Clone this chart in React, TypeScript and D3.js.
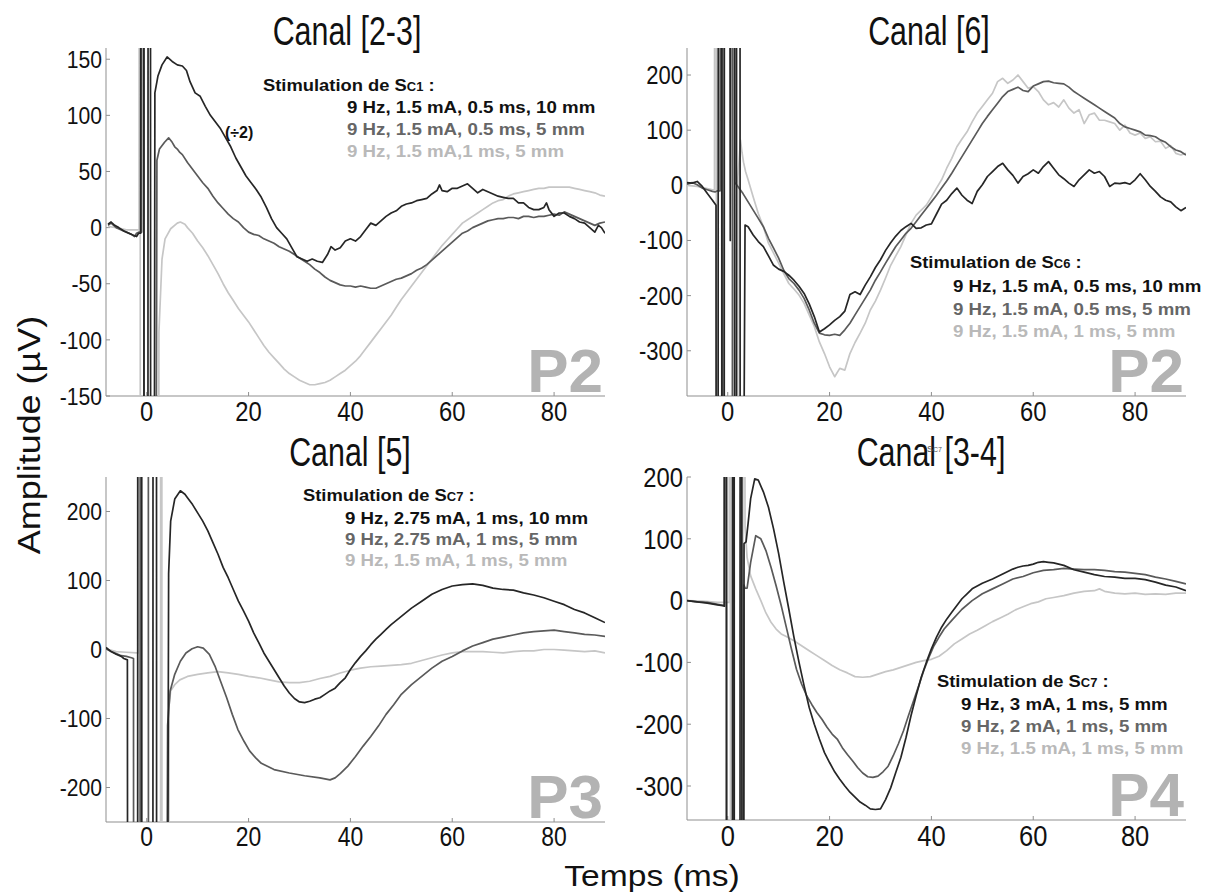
import React from "react";
import * as d3 from "d3";

type Pt = [number, number];

// ---------- tick labels & texts ----------
const xTicks = [0, 20, 40, 60, 80];
const yTicksA = [-150, -100, -50, 0, 50, 100, 150];
const yTicksB = [-300, -200, -100, 0, 100, 200];
const yTicksC = [-200, -100, 0, 100, 200];
const yTicksD = [-300, -200, -100, 0, 100, 200];

const titles = ["Canal [2-3]", "Canal [6]", "Canal [5]", "Canal [3-4]"];
const stimSites = ["C1", "C6", "C7", "C7"];
const panelTags = ["P2", "P2", "P3", "P4"];
const legendA = ["9 Hz, 1.5 mA, 0.5 ms, 10 mm", "9 Hz, 1.5 mA, 0.5 ms, 5 mm", "9 Hz, 1.5 mA,1 ms, 5 mm"];
const legendB = ["9 Hz, 1.5 mA, 0.5 ms, 10 mm", "9 Hz, 1.5 mA, 0.5 ms, 5 mm", "9 Hz, 1.5 mA, 1 ms, 5 mm"];
const legendC = ["9 Hz, 2.75 mA, 1 ms, 10 mm", "9 Hz, 2.75 mA, 1 ms, 5 mm", "9 Hz, 1.5 mA, 1 ms, 5 mm"];
const legendD = ["9 Hz, 3 mA, 1 ms, 5 mm", "9 Hz, 2 mA, 1 ms, 5 mm", "9 Hz, 1.5 mA, 1 ms, 5 mm"];

// ---------- series: [time (ms), amplitude (µV)]; ±999 = stimulus artefact off-scale ----------
const p1Dark: Pt[] = [[-7.6,3],[-7,5],[-6.3,2],[-5.5,0],[-4.5,-3],[-3.5,-5],[-2.5,-7],[-2,-8],[-1.6,-5],[-1.2,-5],[-1.1,999],[-0.6,999],[-0.5,-999],[0.2,-999],[0.3,999],[0.7,999],[0.8,-999],[1.3,-999],[1.6,120],[2.2,135],[3,145],[4,152],[5,148],[6,145],[7,144],[7.8,140],[8.5,130],[9.5,120],[10.5,117],[11.5,108],[12.5,100],[13.5,94],[14.5,88],[15.5,80],[16.5,72],[17.5,62],[18.5,54],[19.5,46],[20.5,40],[21.5,34],[22.5,27],[23.5,18],[24.5,8],[25.5,0],[26.5,-5],[27.5,-10],[28.5,-18],[29.5,-26],[30.5,-28],[31.5,-30],[32.5,-28],[33.5,-30],[34.5,-31],[35.5,-24],[36.2,-17],[37,-20],[38,-18],[39,-12],[40,-10],[41,-12],[42,-8],[43,-2],[44,4],[45,2],[46,6],[47,10],[48,13],[49,15],[50,19],[51,21],[52,22],[53,24],[54,25],[55,26],[56,30],[57,33],[57.5,38],[58,33],[59,32],[60,35],[61,35],[62,37],[63,39],[64,35],[65,31],[66,34],[67,32],[68,30],[69,28],[70,27],[71,26],[72,26],[73,22],[74,22],[75,18],[76,16],[77,16],[78,18],[78.5,22],[79,16],[80,10],[81,13],[82,13],[83,10],[84,8],[85,5],[86,4],[87,0],[88,-4],[88.7,2],[89.3,0],[90,-5]];
const p1Mid: Pt[] = [[-7.6,2],[-7,4],[-6,0],[-5,-2],[-4,-4],[-3,-6],[-2.4,-8],[-2,-5],[-1.5,-4],[-1,-4],[-0.9,999],[-0.6,999],[-0.5,-999],[1.1,-999],[1.5,-999],[2,60],[2.5,70],[3.5,76],[4.3,80],[5,76],[5.5,72],[6,70],[6.5,67],[7,65],[8,58],[9,52],[10,46],[11,40],[12,35],[13,28],[14,22],[15,17],[16,12],[17,8],[18,5],[19,0],[20,-4],[21,-6],[22,-7],[23,-10],[24,-12],[25,-14],[26,-17],[27,-19],[28,-21],[29,-24],[30,-27],[31,-30],[32,-33],[33,-37],[34,-40],[35,-44],[36,-47],[37,-49],[38,-51],[39,-52],[40,-52],[41,-53],[42,-52],[43,-53],[44,-54],[45,-54],[46,-52],[47,-50],[48,-48],[49,-46],[50,-45],[51,-43],[52,-41],[53,-38],[54,-36],[55,-33],[56,-29],[57,-25],[58,-21],[59,-17],[60,-13],[61,-9],[62,-5],[63,-3],[64,0],[65,2],[66,4],[67,6],[68,7],[69,8],[70,8],[71,9],[72,9],[73,8],[74,10],[75,10],[76,9],[77,10],[78,10],[79,11],[80,12],[81,11],[82,14],[83,12],[84,10],[85,8],[86,6],[87,4],[88,2],[89,4],[90,5]];
const p1Light: Pt[] = [[-7.6,1],[-6,0],[-4,-2],[-2,-2],[-1.5,-2],[-1.45,999],[-1.3,999],[-1.25,-999],[2.05,-999],[2.4,-93],[3,-28],[3.6,-10],[4.7,-1],[6,4],[6.6,5],[7.5,3],[8,0],[9,-5],[10,-12],[11,-18],[12,-25],[13,-33],[14,-41],[15,-50],[16,-58],[17,-65],[18,-72],[19,-78],[20,-84],[21,-91],[22,-98],[23,-105],[24,-111],[25,-116],[26,-121],[27,-126],[28,-130],[29,-133],[30,-136],[31,-138],[32,-140],[33,-140],[34,-139],[35,-138],[36,-136],[37,-133],[38,-130],[39,-127],[40,-123],[41,-119],[42,-114],[43,-108],[44,-102],[45,-96],[46,-90],[47,-84],[48,-78],[49,-71],[50,-64],[51,-58],[52,-52],[53,-46],[54,-40],[55,-34],[56,-28],[57,-22],[58,-16],[59,-11],[60,-6],[61,-1],[62,4],[63,7],[64,10],[65,13],[66,16],[67,19],[68,22],[69,24],[70,25],[71,28],[72,30],[73,31],[74,32],[75,33],[76,34],[77,35],[78,35],[79,36],[80,36],[81,36],[82,36],[83,36],[84,35],[85,34],[86,33],[87,32],[88,31],[89,29],[90,28]];

const p2Dark: Pt[] = [[-8,5],[-7,4],[-6,7],[-5,-2],[-4,-15],[-3,-27],[-2.3,-36],[-2.25,-999],[-1.9,-999],[-1.85,999],[-1.2,999],[-1.15,-999],[-0.7,-999],[-0.65,999],[0.35,999],[0.5,-100],[0.65,999],[1.3,999],[1.35,-999],[1.7,-999],[1.75,999],[2.4,999],[2.45,-999],[2.9,-999],[3.4,-72],[4,-75],[5,-90],[6,-102],[7,-111],[8,-128],[9,-145],[10,-152],[11,-156],[12,-163],[13,-172],[14,-183],[15,-196],[16,-215],[17,-238],[18,-266],[19,-260],[20,-253],[21,-245],[22,-238],[23,-228],[24,-198],[25,-193],[26,-198],[27,-181],[28,-166],[29,-149],[30,-135],[31,-118],[32,-104],[33,-92],[34,-82],[35,-75],[36,-69],[37,-78],[38,-77],[39,-72],[40,-70],[41,-52],[42,-34],[43,-27],[44,-15],[45,-5],[46,-18],[47,-27],[48,-33],[49,-11],[50,1],[51,16],[52,25],[53,34],[54,40],[55,28],[56,18],[57,4],[58,16],[59,21],[60,28],[61,22],[62,34],[63,43],[64,31],[65,19],[66,12],[67,4],[68,-2],[69,10],[70,19],[71,28],[72,22],[73,25],[74,16],[75,-2],[76,4],[77,3],[78,5],[79,2],[80,10],[81,21],[82,10],[83,-2],[84,-11],[85,-21],[86,-27],[87,-30],[88,-39],[89,-46],[90,-40]];
const p2Mid: Pt[] = [[-8,2],[-7,5],[-6,1],[-5,-5],[-4,-8],[-3,-11],[-2.5,-12],[-2,-10],[-1.5,-10],[-1.45,999],[-1,999],[-0.95,-999],[0.9,-999],[0.95,999],[1.3,999],[1.4,5],[2,-2],[3,-15],[4,-30],[5,-45],[6,-60],[7,-75],[8,-96],[9,-114],[10,-132],[11,-154],[12,-169],[13,-178],[14,-190],[15,-205],[16,-226],[17,-250],[18,-268],[19,-271],[20,-272],[21,-270],[22,-272],[23,-262],[24,-250],[25,-235],[26,-220],[27,-205],[28,-190],[29,-172],[30,-157],[31,-141],[32,-126],[33,-111],[34,-99],[35,-87],[36,-78],[37,-66],[38,-54],[39,-42],[40,-30],[41,-18],[42,-5],[43,8],[44,22],[45,37],[46,52],[47,67],[48,82],[49,97],[50,112],[51,125],[52,137],[53,149],[54,161],[55,170],[56,174],[57,178],[58,172],[59,170],[60,180],[61,184],[62,188],[63,189],[64,186],[65,185],[66,184],[67,178],[68,170],[69,164],[70,158],[71,152],[72,146],[73,140],[74,134],[75,128],[76,122],[77,112],[78,106],[79,103],[80,100],[81,97],[82,91],[83,90],[84,88],[85,82],[86,78],[87,70],[88,64],[89,61],[90,55]];
const p2Light: Pt[] = [[-8,0],[-6,-2],[-4,-6],[-3,-8],[-2.6,-8],[-2.55,999],[-2.25,999],[-2.2,-999],[1.9,-999],[2,15],[2.2,40],[2.5,82],[2.8,60],[3.1,42],[3.5,25],[4,10],[5,-21],[6,-51],[7,-75],[8,-105],[9,-123],[10,-141],[11,-160],[12,-178],[13,-188],[14,-199],[15,-214],[16,-235],[17,-256],[18,-284],[19,-305],[20,-329],[21,-347],[22,-332],[23,-335],[24,-305],[25,-285],[26,-268],[27,-250],[28,-226],[29,-210],[30,-190],[31,-168],[32,-145],[33,-128],[34,-111],[35,-90],[36,-69],[37,-54],[38,-45],[39,-36],[40,-21],[41,-5],[42,10],[43,31],[44,49],[45,70],[46,84],[47,97],[48,115],[49,131],[50,143],[51,155],[52,167],[53,188],[54,194],[55,185],[56,191],[57,200],[58,188],[59,176],[60,179],[61,170],[62,155],[63,146],[64,150],[65,142],[66,155],[67,140],[68,131],[69,137],[70,112],[71,128],[72,131],[73,118],[74,118],[75,115],[76,112],[77,100],[78,109],[79,95],[80,91],[81,95],[82,85],[83,88],[84,79],[85,80],[86,67],[87,72],[88,58],[89,55],[90,58]];

const p3Dark: Pt[] = [[-8,3],[-7,-3],[-6,-7],[-5,-10],[-4.5,-13],[-3.8,-15],[-3.7,-999],[-1.8,-999],[-1.75,999],[-1,999],[-0.95,-999],[1.2,-999],[1.25,999],[1.9,999],[1.95,-999],[3.9,-999],[4.3,110],[4.7,186],[5.5,218],[6.6,230],[7.5,225],[8,220],[9,210],[10,198],[11,186],[12,172],[13,155],[14,138],[15,119],[16,104],[17,87],[18,70],[19,56],[20,41],[21,24],[22,10],[23,-5],[24,-17],[25,-29],[26,-41],[27,-53],[28,-63],[29,-71],[30,-76],[31,-77],[32,-75],[33,-72],[34,-70],[35,-65],[36,-60],[37,-56],[38,-48],[39,-41],[40,-29],[41,-19],[42,-10],[43,-2],[44,7],[45,15],[46,22],[47,29],[48,36],[50,48],[52,60],[54,70],[56,80],[58,87],[60,92],[62,94],[64,95],[66,93],[68,89],[70,87],[72,86],[74,82],[76,79],[78,75],[80,70],[82,65],[84,58],[86,53],[88,46],[90,39]];
const p3Mid: Pt[] = [[-8,1],[-7,-3],[-6,-6],[-5,-9],[-4,-10],[-3,-12],[-2.6,-13],[-2.55,-999],[-1.3,-999],[-1.25,999],[0.3,999],[0.35,-999],[3.7,-999],[4.1,-110],[4.6,-60],[5.5,-36],[6.6,-17],[7.7,-5],[8.9,1],[10,4],[11.1,2],[12.3,-7],[13.4,-24],[14.5,-46],[15.7,-70],[16.8,-94],[17.9,-116],[19.1,-133],[20.2,-147],[21.4,-157],[22.5,-165],[25,-174],[28,-179],[31,-183],[34,-186],[36,-189],[37,-186],[38,-180],[39.5,-169],[41,-155],[42.5,-140],[44,-126],[45.5,-111],[47,-94],[48.5,-80],[50,-65],[52,-51],[54,-39],[56,-27],[58,-17],[60,-10],[62,-2],[64,5],[66,10],[68,15],[70,18],[72,21],[74,24],[76,26],[78,27],[80,28],[82,26],[84,24],[86,22],[88,21],[90,19]];
const p3Light: Pt[] = [[-8,1],[-6,-3],[-4,-4],[-2,-5],[-1.65,-5],[-1.6,999],[-1.45,999],[-1.4,-999],[2.7,-999],[2.75,999],[2.95,999],[3,-999],[4.2,-999],[4.4,-80],[4.7,-60],[5.5,-51],[6.5,-44],[8,-39],[10,-36],[12,-34],[14,-32],[16,-34],[18,-36],[20,-39],[22,-41],[24,-44],[26,-47],[28,-48],[30,-48],[32,-46],[34,-42],[36,-39],[38,-34],[40,-30],[42,-27],[44,-25],[46,-24],[48,-23],[50,-22],[52,-20],[54,-16],[56,-12],[58,-8],[60,-5],[62,-3],[64,-3],[66,-3],[68,-4],[70,-5],[72,-3],[74,-2],[76,-2],[78,0],[80,0],[82,-1],[84,-2],[86,-3],[88,-2],[90,-5]];

const p4Dark: Pt[] = [[-8,0],[-6,-2],[-4,-4],[-2,-7],[-1,-8],[-0.65,-9],[-0.6,999],[-0.25,999],[-0.2,-999],[0.9,-999],[0.95,999],[1.25,999],[1.3,-999],[2.4,-999],[2.45,999],[2.75,999],[2.8,-999],[3.1,-999],[3.2,92],[3.6,95],[4,125],[4.5,165],[5.3,197],[6,195],[7,176],[8,151],[9,116],[10,76],[11,30],[12,-14],[13,-59],[14,-100],[15,-138],[16,-173],[17,-200],[18,-224],[19,-246],[20,-262],[21,-277],[22,-289],[23,-300],[24,-310],[25,-318],[26,-326],[27,-331],[28,-337],[29,-338],[30,-337],[31,-322],[32,-303],[33,-278],[34,-254],[35,-222],[36,-186],[37,-154],[38,-124],[39,-100],[40,-78],[41,-59],[42,-43],[43,-30],[44,-19],[45,-8],[46,3],[47,11],[48,19],[50,28],[52,35],[54,43],[56,51],[57,54],[58,56],[59,57],[60,59],[61,62],[62,63],[63,62],[64,61],[66,57],[68,50],[70,46],[72,42],[74,39],[76,38],[78,36],[80,36],[82,34],[84,30],[86,25],[88,22],[90,16]];
const p4Mid: Pt[] = [[-8,0],[-6,-2],[-4,-3],[-2,-6],[-0.7,-8],[-0.65,999],[-0.3,999],[-0.25,-999],[1,-999],[1.05,999],[1.2,999],[1.25,-999],[2.9,-999],[3.2,25],[3.4,20],[3.8,20],[4.5,62],[5.5,105],[6.5,100],[7.5,81],[8.5,54],[9.5,24],[10.5,-8],[11.5,-43],[12.5,-78],[13.5,-111],[14.5,-135],[15.5,-154],[16.5,-168],[17.5,-181],[18.5,-192],[19.5,-205],[20.5,-216],[21.5,-224],[22.5,-238],[23.5,-249],[24.5,-259],[25.5,-270],[26.5,-279],[27.5,-285],[28.5,-286],[29.5,-284],[30.5,-277],[31.5,-268],[32.5,-251],[33.5,-232],[34.5,-211],[35.5,-186],[36.5,-162],[37.5,-138],[38.5,-113],[39.5,-92],[40.5,-73],[41.5,-59],[42.5,-46],[44,-32],[46,-14],[48,0],[50,11],[52,19],[54,27],[56,35],[58,39],[60,45],[62,49],[64,50],[66,52],[68,51],[70,50],[72,50],[74,49],[76,47],[78,46],[80,44],[82,42],[84,38],[86,35],[88,31],[90,27]];
const p4Light: Pt[] = [[-8,0],[-5,-1],[-2,-3],[0.3,-3],[0.35,999],[0.5,999],[0.55,-999],[2.95,-999],[3,999],[3.2,999],[3.4,120],[3.8,70],[4.5,40],[5.5,19],[6.5,0],[7.5,-20],[8.5,-35],[9.5,-46],[10.5,-54],[11.5,-58],[13,-65],[14.5,-73],[16,-81],[17.5,-89],[19,-97],[20.5,-105],[22,-112],[23.5,-117],[25,-123],[26.5,-124],[28,-123],[29.5,-119],[31,-115],[32.5,-112],[34,-108],[35.5,-104],[37,-100],[38.5,-97],[40,-95],[41.5,-90],[43,-81],[44.5,-70],[46,-62],[47.5,-54],[49,-48],[50.5,-41],[52,-34],[53.5,-28],[55,-22],[56.5,-15],[58,-10],[59.5,-5],[61,-2],[62.5,3],[64,5],[66,8],[68,12],[70,15],[72,16],[73,19],[74,15],[76,12],[78,11],[80,12],[82,10],[84,11],[86,10],[88,12],[90,12]];

// ---------- styling / layout ----------
const FONT = "'Liberation Sans', Arial, Helvetica, sans-serif";
const lineColors = ["#c6c6c6", "#5a5a5a", "#262626"]; // light, mid, dark (draw order)
const legendColors = ["#111111", "#666666", "#b9b9b9"];
const tagColor = "#b3b3b3";
const axisColor = "#8f8f8f";

interface PanelCfg {
  x0: number; x1: number; top: number; bottom: number;
  yDomain: [number, number];
  yTicks: number[];
  series: Pt[][]; // light, mid, dark
  title: string; titleX: number; titleY: number;
  tick: number; xTick: number;
  legend: string[]; site: string; legX: number; legY: number; legIndent: number; legGaps: number[];
  tag: string;
}

const panels: PanelCfg[] = [
  { x0: 106, x1: 605, top: 48, bottom: 396, yDomain: [-150, 160], yTicks: yTicksA,
    series: [p1Light, p1Mid, p1Dark], title: titles[0], titleX: 347, titleY: 45, tick: 24, xTick: 28,
    legend: legendA, site: stimSites[0], legX: 263, legY: 91, legIndent: 84, legGaps: [22, 44, 66], tag: panelTags[0] },
  { x0: 687, x1: 1186, top: 48, bottom: 396, yDomain: [-382, 249], yTicks: yTicksB,
    series: [p2Light, p2Mid, p2Dark], title: titles[1], titleX: 929, titleY: 45, tick: 25, xTick: 28,
    legend: legendB, site: stimSites[1], legX: 910, legY: 268, legIndent: 43, legGaps: [24, 47, 69], tag: panelTags[1] },
  { x0: 106, x1: 605, top: 477, bottom: 822, yDomain: [-250, 250], yTicks: yTicksC,
    series: [p3Light, p3Mid, p3Dark], title: titles[2], titleX: 350, titleY: 466, tick: 24, xTick: 27,
    legend: legendC, site: stimSites[2], legX: 303, legY: 501, legIndent: 42, legGaps: [23, 44, 65], tag: panelTags[2] },
  { x0: 687, x1: 1186, top: 477, bottom: 820, yDomain: [-355, 200], yTicks: yTicksD,
    series: [p4Light, p4Mid, p4Dark], title: titles[3], titleX: 931, titleY: 466, tick: 27, xTick: 30,
    legend: legendD, site: stimSites[3], legX: 937, legY: 687, legIndent: 24, legGaps: [23, 45, 67], tag: panelTags[3] },
];

const tr = (x: number, y: number, s: number) => `translate(${x},${y}) scale(${s},1)`;

function Panel({ cfg, idx }: { cfg: PanelCfg; idx: number }) {
  const x = d3.scaleLinear().domain([-8, 90]).range([cfg.x0, cfg.x1]);
  const y = d3.scaleLinear().domain(cfg.yDomain).range([cfg.bottom, cfg.top]);
  const line = d3.line<Pt>().x((d) => x(d[0])).y((d) => y(d[1]));
  const clipId = `clip${idx}`;
  return (
    <g>
      <defs>
        <clipPath id={clipId}>
          <rect x={cfg.x0} y={cfg.top} width={cfg.x1 - cfg.x0} height={cfg.bottom - cfg.top} />
        </clipPath>
      </defs>
      {/* title */}
      <text transform={tr(cfg.titleX, cfg.titleY, 0.76)} textAnchor="middle" fontSize={40} fontFamily={FONT} fill="#111">
        {cfg.title}
      </text>
      {/* panel tag */}
      <text x={cfg.x1 - 2} y={cfg.bottom - 4} textAnchor="end" fontSize={62} fontWeight="bold" fontFamily={FONT} fill={tagColor}>
        {cfg.tag}
      </text>
      {/* axes */}
      <line x1={cfg.x0} x2={cfg.x0} y1={cfg.top} y2={cfg.bottom} stroke={axisColor} strokeWidth={1} />
      <line x1={cfg.x0} x2={cfg.x1} y1={cfg.bottom} y2={cfg.bottom} stroke={axisColor} strokeWidth={1} />
      {cfg.yTicks.map((t) => (
        <g key={"y" + t}>
          <line x1={cfg.x0} x2={cfg.x0 + 4} y1={y(t)} y2={y(t)} stroke={axisColor} />
          <text transform={tr(cfg.x0 - 4, y(t) + cfg.tick * 0.36, 0.88)} textAnchor="end" fontSize={cfg.tick} fontFamily={FONT} fill="#111">
            {t}
          </text>
        </g>
      ))}
      {xTicks.map((t) => (
        <g key={"x" + t}>
          <line x1={x(t)} x2={x(t)} y1={cfg.bottom} y2={cfg.bottom - 4} stroke={axisColor} />
          <text transform={tr(x(t), cfg.bottom + 4 + cfg.xTick * 0.74, 0.85)} textAnchor="middle" fontSize={cfg.xTick} fontFamily={FONT} fill="#111">
            {t}
          </text>
        </g>
      ))}
      {/* traces */}
      <g clipPath={`url(#${clipId})`}>
        {cfg.series.map((s, i) => (
          <path key={i} d={line(s) || ""} fill="none" stroke={lineColors[i]} strokeWidth={1.7} strokeLinejoin="round" />
        ))}
      </g>
      {/* legend */}
      <text transform={tr(cfg.legX, cfg.legY, 1.08)} fontSize={17} fontWeight="bold" fontFamily={FONT} fill="#111">
        Stimulation de S<tspan fontSize={12}>{cfg.site}</tspan> :
      </text>
      {cfg.legend.map((l, i) => (
        <text key={i} transform={tr(cfg.legX + cfg.legIndent, cfg.legY + cfg.legGaps[i], 1.1)} fontSize={17} fontWeight="bold" fontFamily={FONT} fill={legendColors[i]}>
          {l}
        </text>
      ))}
    </g>
  );
}

export default function App() {
  return (
    <svg width={1214} height={893} style={{ position: "absolute", left: 0, top: 0, background: "#fff" }}>
      <rect x={0} y={0} width={1214} height={893} fill="#fff" />
      {panels.map((p, i) => (
        <Panel key={i} cfg={p} idx={i} />
      ))}
      {/* halving note on the 10 mm trace */}
      <text x={225} y={138} fontSize={16} fontWeight="bold" fontFamily={FONT} fill="#111">(÷2)</text>
      {/* stray small label overlapping the bottom-right title */}
      <text x={927} y={452} fontSize={9} fontFamily={FONT} fill="#555">S<tspan fontSize={7}>C7</tspan></text>
      {/* axis titles */}
      <text transform="translate(40,435) rotate(-90) scale(1.16,1)" textAnchor="middle" fontSize={31} fontFamily={FONT} fill="#111">
        Amplitude (µV)
      </text>
      <text transform={tr(652, 886, 1.12)} textAnchor="middle" fontSize={30} fontFamily={FONT} fill="#111">
        Temps (ms)
      </text>
    </svg>
  );
}
